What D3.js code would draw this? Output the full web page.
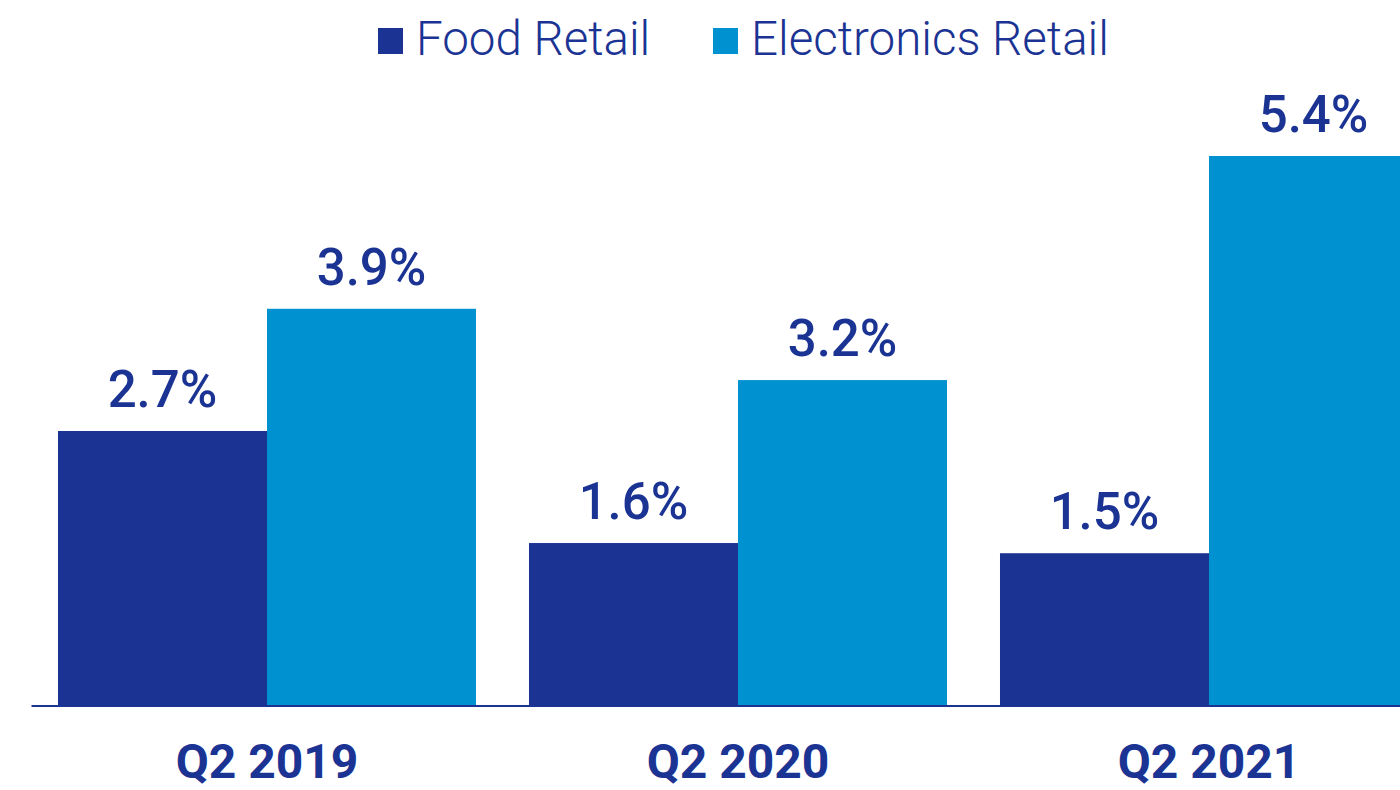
<!DOCTYPE html>
<html><head><meta charset="utf-8">
<script src="https://cdn.jsdelivr.net/npm/d3@7"></script>
<style>html,body{margin:0;padding:0;background:#fff;overflow:hidden}svg{display:block}</style>
</head><body>
<svg id="c" width="1400" height="790"></svg>
<script>
const categories = ["Q2 2019", "Q2 2020", "Q2 2021"];
const seriesNames = ["Food Retail", "Electronics Retail"];
const foodRetail = [2.7, 1.6, 1.5];
const electronicsRetail = [3.9, 3.2, 5.4];
const colors = ["#1b3494", "#0092d0"];
const textColor = "#1b3494";

const svg = d3.select("#c");
const base = 706;
const x0 = d3.scaleBand().domain(categories).range([31.5, 1444.5]).paddingInner(0.1125).paddingOuter(0.05625);
const x1 = d3.scaleBand().domain(seriesNames).range([0, x0.bandwidth()]);
const y = d3.scaleLinear().domain([0, 5.4]).range([base, 156]);
const color = d3.scaleOrdinal().domain(seriesNames).range(colors);

const data = categories.map((c, i) => ({cat: c, vals: [
  {s: seriesNames[0], v: foodRetail[i]}, {s: seriesNames[1], v: electronicsRetail[i]}]}));

const g = svg.selectAll("g.grp").data(data).join("g").attr("class","grp")
  .attr("transform", d => `translate(${x0(d.cat)},0)`);
g.selectAll("rect").data(d => d.vals).join("rect")
  .attr("x", d => x1(d.s)).attr("y", d => y(d.v))
  .attr("width", x1.bandwidth()).attr("height", d => base - y(d.v))
  .attr("fill", d => color(d.s));
g.selectAll("text.val").data(d => d.vals).join("text").attr("class","val")
  .attr("x", d => x1(d.s) + x1.bandwidth()/2).attr("y", d => y(d.v) - 24)
  .attr("text-anchor","middle").attr("fill", textColor)
  .style("font-family","Roboto").style("font-weight","500").style("font-size","51px")
  .text(d => d.v.toFixed(1) + "%");

// axis
const axis = d3.axisBottom(x0).tickSize(0).tickPadding(0);
const ax = svg.append("g").attr("transform", `translate(0,${base})`).call(axis);
ax.select(".domain").attr("stroke", textColor).attr("stroke-width", 2).attr("d", `M${x0.range()[0]},0H1400`);
ax.selectAll(".tick text").attr("y", 72).attr("dy", null).attr("fill", textColor)
  .style("font-family","Roboto").style("font-weight","700").style("font-size","48px");

// legend
const legend = svg.append("g");
const lx = [378, 713];
seriesNames.forEach((s, i) => {
  legend.append("rect").attr("x", lx[i]).attr("y", 28).attr("width", 25).attr("height", 26).attr("fill", color(s));
  legend.append("text").attr("x", lx[i] + 38).attr("y", 55).attr("fill", textColor)
    .style("font-family","Roboto").style("font-weight","300").style("font-size","47.5px").text(s);
});
</script>
</body></html>
